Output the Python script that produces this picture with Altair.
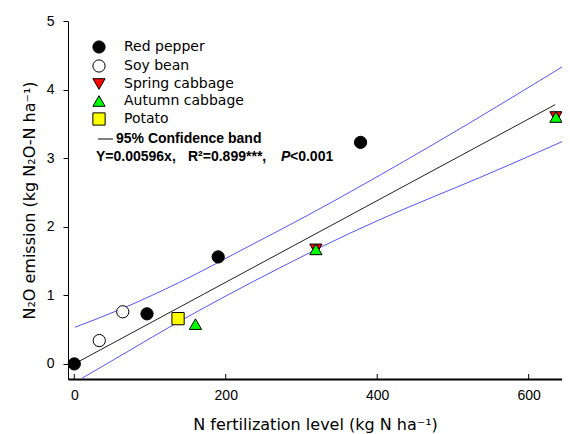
import altair as alt
import pandas as pd

# ---- data ----
crops = ["Red pepper", "Soy bean", "Spring cabbage", "Autumn cabbage", "Potato"]
shapes = ["circle", "circle", "triangle-down", "triangle-up", "square"]
fills = ["black", "white", "#ff0000", "#00ff00", "#ffff00"]
strokes = ["black"] * 5

pt_crop = ["Red pepper"] * 4 + ["Soy bean"] * 2 + ["Spring cabbage"] * 2 + ["Autumn cabbage"] * 3 + ["Potato"]
pt_x = [0, 96, 190, 378, 33, 64, 319, 636, 160, 319, 636, 137]
pt_y = [0.0, 0.73, 1.56, 3.23, 0.34, 0.76, 1.67, 3.60, 0.58, 1.67, 3.60, 0.66]

reg_x = [0, 635]
reg_y = [0.0, 3.78]

up_x = [1, 64, 139, 226, 307, 477, 650]
up_y = [0.535, 0.81, 1.19, 1.69, 2.16, 3.22, 4.37]

lo_x = [10, 72, 134, 165, 307, 327, 477, 497, 650]
lo_y = [-0.21, 0.19, 0.59, 0.78, 1.60, 1.71, 2.45, 2.54, 3.27]

x_ticks = [0, 200, 400, 600]
y_ticks = [0, 1, 2, 3, 4, 5]

x_dom = [-8.3, 644]
y_dom = [-0.22, 5]

FONT = "Liberation Sans"
TFONT = "DejaVu Sans"

pts = pd.DataFrame({"crop": pt_crop, "x": pt_x, "y": pt_y})
reg = pd.DataFrame({"x": reg_x, "y": reg_y})
band = pd.concat([
    pd.DataFrame({"x": up_x, "y": up_y, "side": "upper"}),
    pd.DataFrame({"x": lo_x, "y": lo_y, "side": "lower"}),
])
ticks = pd.DataFrame({"x": x_ticks})

xs = alt.Scale(domain=x_dom, nice=False, zero=False)
ys = alt.Scale(domain=y_dom, nice=False, zero=False)

xax = alt.Axis(values=x_ticks, ticks=False, labelPadding=9, title="N fertilization level (kg N ha⁻¹)",
               titlePadding=14, domainWidth=2, grid=False)
yax = alt.Axis(values=y_ticks, tickSize=5, labelPadding=9, title="N₂O emission (kg N₂O-N ha⁻¹)",
               titlePadding=9, domainWidth=1, grid=False, format="d")

band_layer = alt.Chart(band).mark_line(color="#5555ff", strokeWidth=1, clip=True, interpolate="monotone").encode(
    x=alt.X("x:Q", scale=xs, axis=xax),
    y=alt.Y("y:Q", scale=ys, axis=yax),
    detail="side:N",
)

reg_layer = alt.Chart(reg).mark_line(color="#222222", strokeWidth=1).encode(
    x=alt.X("x:Q", scale=xs),
    y=alt.Y("y:Q", scale=ys),
)

tick_layer = alt.Chart(ticks).mark_rule(color="black", strokeWidth=1).encode(
    x=alt.X("x:Q", scale=xs),
    y=alt.value(353),
    y2=alt.value(358),
)

leg = alt.Legend(title=None, orient="none", legendX=24, legendY=19)
pt_layer = alt.Chart(pts).mark_point(filled=True, size=150, strokeWidth=1, opacity=1).encode(
    x=alt.X("x:Q", scale=xs),
    y=alt.Y("y:Q", scale=ys),
    shape=alt.Shape("crop:N", scale=alt.Scale(domain=crops, range=shapes), legend=leg),
    fill=alt.Fill("crop:N", scale=alt.Scale(domain=crops, range=fills), legend=leg),
    stroke=alt.Stroke("crop:N", scale=alt.Scale(domain=crops, range=strokes), legend=leg),
    order=alt.Order("idx:Q"),
).transform_window(idx="row_number()")

dash = alt.Chart(pd.DataFrame({"a": [0]})).mark_rule(color="black", strokeWidth=1).encode(
    x=alt.value(30), x2=alt.value(45), y=alt.value(118)
)

ann_style = dict(font=FONT, fontSize=14, fontWeight="bold", align="left", baseline="middle", color="black")
t1 = alt.Chart(pd.DataFrame({"t": ["95% Confidence band"]})).mark_text(**ann_style).encode(
    text="t:N", x=alt.value(48), y=alt.value(118))
t2a = alt.Chart(pd.DataFrame({"t": ["Y=0.00596x,"]})).mark_text(**ann_style).encode(
    text="t:N", x=alt.value(28), y=alt.value(136))
t2b = alt.Chart(pd.DataFrame({"t": ["R²=0.899***,"]})).mark_text(**ann_style).encode(
    text="t:N", x=alt.value(120), y=alt.value(136))
t3 = alt.Chart(pd.DataFrame({"t": ["P"]})).mark_text(fontStyle="italic", **ann_style).encode(
    text="t:N", x=alt.value(213), y=alt.value(136))
t4 = alt.Chart(pd.DataFrame({"t": ["<0.001"]})).mark_text(**ann_style).encode(
    text="t:N", x=alt.value(222), y=alt.value(136))

chart = alt.layer(band_layer, reg_layer, tick_layer, pt_layer, dash, t1, t2a, t2b, t3, t4).properties(
    width=494, height=358,
    autosize=alt.AutoSizeParams(type="none"),
    padding={"left": 60, "top": 13, "right": 0, "bottom": 55},
).configure_view(stroke=None).configure_axis(
    labelFont=FONT, labelFontSize=14, labelColor="black", titleFont=TFONT, titleFontSize=16,
    titleFontWeight="normal", titleColor="black", domainColor="black", tickColor="black",
).configure_legend(
    labelFont=TFONT, labelFontSize=14, labelColor="black", symbolSize=150,
    symbolStrokeWidth=1, labelOffset=18, rowPadding=1, padding=0, symbolOpacity=1,
)

chart.save("out.html", embed_options={"renderer": "svg", "actions": False})
